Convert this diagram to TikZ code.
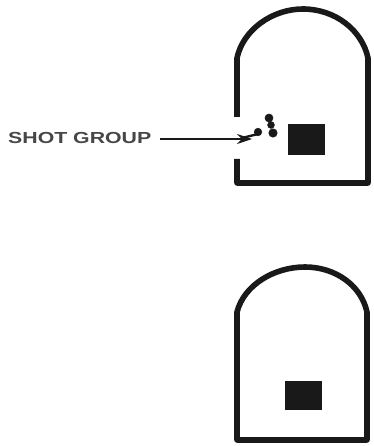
\documentclass[tikz,border=0pt]{standalone}
\usepackage{fontspec}
\usepackage{graphicx}
\setmainfont{Liberation Sans}
\usetikzlibrary{arrows.meta}
\definecolor{ink}{gray}{0.1}
\tikzset{
  outline/.style={draw=ink,line width=5.6pt,line cap=butt,line join=round},
  aimblock/.style={fill=ink,draw=none},
  shot/.style={draw=ink,fill=ink,line width=0.6pt},
  labeltext/.style={text=ink!80!white,font=\bfseries\fontsize{16}{18}\selectfont,inner sep=0pt,anchor=west},
  pointer/.style={draw=ink,line width=1.3pt,-{Stealth[length=15pt,width=10pt]}}
}
\begin{document}
\begin{tikzpicture}[x=1pt,y=-1pt]
\useasboundingbox (0,0) rectangle (373,446);
% upper target
\draw[outline] (237,117) -- (237,58)
  .. controls (243,30) and (272,9) .. (303,9)
  .. controls (335,9) and (362,30) .. (368,58)
  -- (368,183) -- (237,183) -- (237,159);
\fill[aimblock] (288,124) rectangle (325,155);
\filldraw[shot] (258,132) circle (3.8pt);
\filldraw[shot] (269,118) circle (4pt);
\filldraw[shot] (271,125) circle (3.4pt);
\filldraw[shot] (273,133) circle (4.2pt);
\draw[ink,line width=2.4pt] (244,137.5) -- (258,134);
% label and arrow
\node[labeltext] (label) at (8,138) {\scalebox{1.33}[1]{SHOT GROUP}};
\coordinate (tip) at (252,139);
\draw[pointer] (160,139) -- (tip);
% lower target
\draw[outline] (237,440) -- (237,312)
  .. controls (244,285) and (274,267) .. (305,267)
  .. controls (335,267) and (361,285) .. (367,312)
  -- (367,440) -- cycle;
\fill[aimblock] (285,381) rectangle (322,410);
\end{tikzpicture}
\end{document}
